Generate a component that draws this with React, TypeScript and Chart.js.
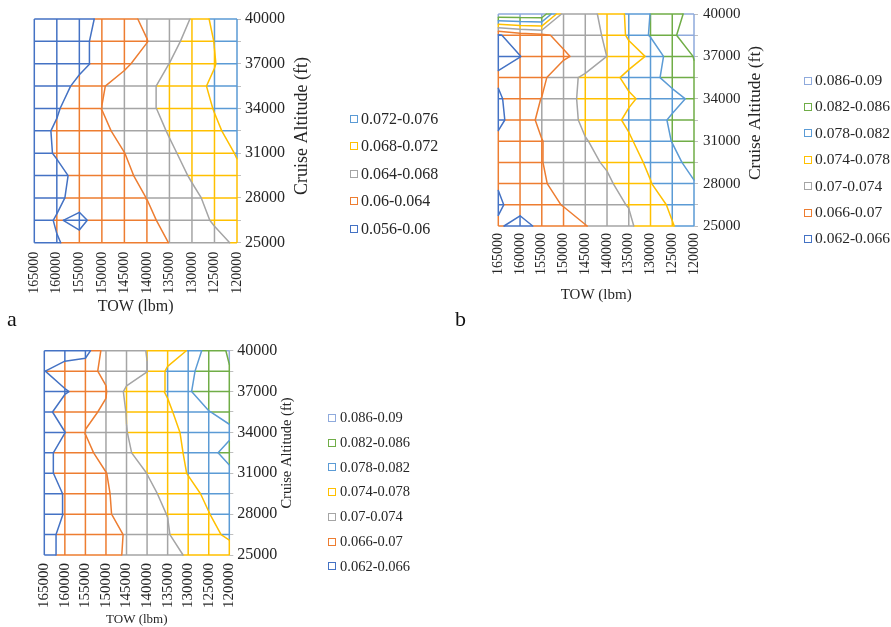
import React, { useEffect, useRef } from 'react';
import { Chart, registerables } from 'chart.js';

Chart.register(...registerables);

// ---------------- data ----------------
const TOW = [165000, 160000, 155000, 150000, 145000, 140000, 135000, 130000, 125000, 120000];
const ALT = [25000, 26500, 28000, 29500, 31000, 32500, 34000, 35500, 37000, 38500, 40000];
const ALT_LABELED = [25000, 28000, 31000, 34000, 37000, 40000];

const A_BANDS = ['0.056-0.06', '0.06-0.064', '0.064-0.068', '0.068-0.072', '0.072-0.076'];
const A_LEVELS = [0.06, 0.064, 0.068, 0.072];
const BC_BANDS = ['0.062-0.066', '0.066-0.07', '0.07-0.074', '0.074-0.078', '0.078-0.082', '0.082-0.086', '0.086-0.09'];
const BC_LEVELS = [0.066, 0.07, 0.074, 0.078, 0.082, 0.086];
const BAND_COLORS = ['#4472C4', '#ED7D31', '#A5A5A5', '#FFC000', '#5B9BD5', '#70AD47', '#8FAADC'];

// value grids: one row per altitude (25000 -> 40000), one column per TOW (165000 -> 120000)
const A_Z = [
  [0.0588, 0.05989, 0.06052, 0.06152, 0.06236, 0.0632, 0.06404, 0.06552, 0.067, 0.06848],
  [0.05916, 0.06016, 0.0596, 0.06074, 0.06208, 0.06336, 0.06488, 0.06664, 0.06836, 0.07],
  [0.05848, 0.0596, 0.06072, 0.0618, 0.06292, 0.06404, 0.06568, 0.06732, 0.06896, 0.0706],
  [0.05796, 0.05932, 0.06068, 0.06204, 0.06336, 0.06492, 0.0666, 0.06832, 0.07, 0.0714],
  [0.059, 0.06024, 0.06148, 0.06276, 0.06396, 0.06572, 0.06748, 0.06904, 0.07052, 0.0722],
  [0.05888, 0.0604, 0.06188, 0.06336, 0.06492, 0.0666, 0.06824, 0.06988, 0.07152, 0.073],
  [0.05752, 0.05968, 0.06188, 0.06404, 0.06568, 0.06732, 0.06892, 0.07052, 0.07212, 0.0738],
  [0.0564, 0.05836, 0.06104, 0.06372, 0.06556, 0.06728, 0.06904, 0.07084, 0.07264, 0.0744],
  [0.0564, 0.0568, 0.05898, 0.06116, 0.06332, 0.06564, 0.06804, 0.06992, 0.07184, 0.0744],
  [0.0563, 0.0578, 0.05932, 0.06084, 0.06236, 0.06388, 0.06668, 0.0694, 0.07208, 0.0744],
  [0.0564, 0.0566, 0.0586, 0.06072, 0.06288, 0.06476, 0.0664, 0.06816, 0.0732, 0.0752],
];

const B_Z = [
  [0.067, 0.0632, 0.068, 0.0692, 0.06988, 0.0712, 0.0734, 0.076, 0.0778, 0.08],
  [0.065, 0.069, 0.0694, 0.07008, 0.0716, 0.0732, 0.07412, 0.0764, 0.0786, 0.0804],
  [0.06648, 0.0684, 0.0696, 0.0712, 0.0726, 0.0736, 0.075, 0.07788, 0.08, 0.0818],
  [0.0668, 0.0682, 0.06992, 0.0714, 0.0734, 0.07428, 0.0768, 0.0786, 0.0812, 0.083],
  [0.0668, 0.0684, 0.06988, 0.072, 0.0738, 0.0752, 0.0774, 0.0804, 0.08208, 0.084],
  [0.0652, 0.06788, 0.07092, 0.0724, 0.07476, 0.0764, 0.0788, 0.0804, 0.08252, 0.0844],
  [0.0654, 0.0684, 0.07008, 0.072, 0.07532, 0.076, 0.0774, 0.0792, 0.0808, 0.0828],
  [0.0666, 0.068, 0.0692, 0.07268, 0.07464, 0.0764, 0.07908, 0.081, 0.08328, 0.0856],
  [0.0648, 0.06592, 0.068, 0.0694, 0.0714, 0.07404, 0.0762, 0.0786, 0.08428, 0.08608],
  [0.0656, 0.068, 0.0692, 0.0712, 0.0722, 0.0746, 0.0786, 0.08236, 0.0852, 0.0892],
  [0.0896, 0.0896, 0.0896, 0.0724, 0.073, 0.0748, 0.0788, 0.08208, 0.0844, 0.0876],
];

const C_Z = [
  [0.0644, 0.0672, 0.068, 0.0696, 0.07012, 0.0714, 0.0728, 0.0744, 0.076, 0.07692],
  [0.0644, 0.0672, 0.0684, 0.0694, 0.07012, 0.0724, 0.0738, 0.0756, 0.0774, 0.0784],
  [0.0644, 0.06616, 0.068, 0.0694, 0.0716, 0.0734, 0.07404, 0.076, 0.07788, 0.08],
  [0.0644, 0.0662, 0.068, 0.0696, 0.0716, 0.0732, 0.0748, 0.0768, 0.0788, 0.0804],
  [0.0644, 0.068, 0.0688, 0.06992, 0.072, 0.07404, 0.076, 0.07816, 0.08, 0.0812],
  [0.0644, 0.06804, 0.0692, 0.0712, 0.0736, 0.0752, 0.0768, 0.0784, 0.081, 0.0832],
  [0.0644, 0.06592, 0.07008, 0.072, 0.07392, 0.076, 0.0768, 0.0788, 0.0812, 0.0812],
  [0.0644, 0.0684, 0.06952, 0.07032, 0.07412, 0.0756, 0.0772, 0.0804, 0.08188, 0.0832],
  [0.0644, 0.0656, 0.0676, 0.06984, 0.07476, 0.076, 0.0784, 0.0816, 0.084, 0.0852],
  [0.06588, 0.06828, 0.0694, 0.0704, 0.072, 0.07392, 0.0786, 0.0812, 0.0836, 0.0858],
  [0.0632, 0.0636, 0.064, 0.072, 0.0728, 0.07408, 0.076, 0.0782, 0.084, 0.0864],
];

// ---------------- geometry helpers (contour + coloured wireframe) ----------------
type Pt = { x: number; y: number };
const GAP: Pt = { x: NaN, y: NaN };

function bandOf(v: number, levels: number[]) {
  let b = 0;
  for (const l of levels) if (v >= l) b++;
  return b;
}

function wireframe(z: number[][], levels: number[], nb: number): Pt[][] {
  const out: Pt[][] = Array.from({ length: nb }, () => [] as Pt[]);
  const edge = (x1: number, y1: number, v1: number, x2: number, y2: number, v2: number) => {
    const ts = [0, 1];
    for (const L of levels) if ((v1 >= L) !== (v2 >= L)) ts.push((L - v1) / (v2 - v1));
    ts.sort((a, b) => a - b);
    for (let i = 0; i < ts.length - 1; i++) {
      const ta = ts[i], tb = ts[i + 1];
      if (tb - ta < 1e-9) continue;
      const vm = v1 + (v2 - v1) * ((ta + tb) / 2);
      const b = Math.min(nb - 1, bandOf(vm, levels));
      out[b].push(
        { x: x1 + (x2 - x1) * ta, y: y1 + (y2 - y1) * ta },
        { x: x1 + (x2 - x1) * tb, y: y1 + (y2 - y1) * tb },
        GAP
      );
    }
  };
  for (let r = 0; r < ALT.length; r++)
    for (let p = 0; p < TOW.length - 1; p++) edge(TOW[p], ALT[r], z[r][p], TOW[p + 1], ALT[r], z[r][p + 1]);
  for (let p = 0; p < TOW.length; p++)
    for (let r = 0; r < ALT.length - 1; r++) edge(TOW[p], ALT[r], z[r][p], TOW[p], ALT[r + 1], z[r + 1][p]);
  return out;
}

function contours(z: number[][], levels: number[]): Pt[][] {
  return levels.map((L) => {
    const out: Pt[] = [];
    const cross = (va: number, vb: number, xa: number, ya: number, xb: number, yb: number): Pt => {
      const t = (L - va) / (vb - va);
      return { x: xa + (xb - xa) * t, y: ya + (yb - ya) * t };
    };
    for (let r = 0; r < ALT.length - 1; r++) {
      for (let p = 0; p < TOW.length - 1; p++) {
        const a = z[r][p], b = z[r][p + 1], c = z[r + 1][p + 1], d = z[r + 1][p];
        const x0 = TOW[p], x1 = TOW[p + 1], y0 = ALT[r], y1 = ALT[r + 1];
        const e: (Pt | null)[] = [
          (a >= L) !== (b >= L) ? cross(a, b, x0, y0, x1, y0) : null,
          (b >= L) !== (c >= L) ? cross(b, c, x1, y0, x1, y1) : null,
          (c >= L) !== (d >= L) ? cross(c, d, x1, y1, x0, y1) : null,
          (d >= L) !== (a >= L) ? cross(d, a, x0, y1, x0, y0) : null,
        ];
        const pts = e.filter((q) => q) as Pt[];
        if (pts.length === 2) out.push(pts[0], pts[1], GAP);
        else if (pts.length === 4) {
          const center = (a + b + c + d) / 4 >= L;
          if (center === (a >= L)) out.push(e[0]!, e[1]!, GAP, e[2]!, e[3]!, GAP);
          else out.push(e[3]!, e[0]!, GAP, e[1]!, e[2]!, GAP);
        }
      }
    }
    return out;
  });
}

// ---------------- layout / styling ----------------
const FONT = '"Liberation Serif", "Times New Roman", serif';
const TEXT = '#262626';
const Y_AXIS_W = 60;

type Cfg = {
  id: string; left: number; top: number; w: number; h: number;
  area: { l: number; t: number; r: number; b: number };
  z: number[][]; levels: number[]; bands: string[];
  xTickFont: number; xTickPad: number; xTitleFont: number; xTitleY: number;
  yTickFont: number; yTickPad: number; yTitleFont: number; yTitleX: number; yTitleY: number;
  legendFont: number; legendBoxX: number; legendTextX: number; legendY0: number; legendStep: number;
};

const PANELS: Cfg[] = [
  {
    id: 'a', left: 0, top: 0, w: 450, h: 330,
    area: { l: 34.3, t: 19, r: 237, b: 242.7 },
    z: A_Z, levels: A_LEVELS, bands: A_BANDS,
    xTickFont: 14, xTickPad: 9, xTitleFont: 16, xTitleY: 307,
    yTickFont: 16, yTickPad: 4, yTitleFont: 18, yTitleX: 302, yTitleY: 126,
    legendFont: 16, legendBoxX: 353, legendTextX: 361, legendY0: 118.5, legendStep: 27.45,
  },
  {
    id: 'b', left: 445, top: 0, w: 446, h: 330,
    area: { l: 53.3, t: 11, r: 249, b: 226 },
    z: B_Z, levels: BC_LEVELS, bands: BC_BANDS,
    xTickFont: 14, xTickPad: 7, xTitleFont: 15, xTitleY: 295,
    yTickFont: 15, yTickPad: 5, yTitleFont: 17.5, yTitleX: 310, yTitleY: 113,
    legendFont: 15.5, legendBoxX: 362, legendTextX: 370, legendY0: 80, legendStep: 26.4,
  },
  {
    id: 'c', left: 0, top: 330, w: 450, h: 310,
    area: { l: 44.3, t: 20.7, r: 229.3, b: 225 },
    z: C_Z, levels: BC_LEVELS, bands: BC_BANDS,
    xTickFont: 15, xTickPad: 8, xTitleFont: 13, xTitleY: 290,
    yTickFont: 16, yTickPad: 4, yTitleFont: 14.5, yTitleX: 287, yTitleY: 123,
    legendFont: 14.5, legendBoxX: 331.7, legendTextX: 340, legendY0: 87.5, legendStep: 24.7,
  },
];

function Panel({ cfg }: { cfg: Cfg }) {
  const ref = useRef<HTMLCanvasElement>(null);
  useEffect(() => {
    const canvas = ref.current!;
    const nb = cfg.bands.length;
    const grid = wireframe(cfg.z, cfg.levels, nb);
    const lines = contours(cfg.z, cfg.levels);
    const base = { showLine: true, pointRadius: 0, pointHoverRadius: 0, spanGaps: false, clip: false as any, borderWidth: 1.5 };
    const datasets: any[] = [
      ...lines.map((d, k) => ({ ...base, label: 'c' + k, data: d, borderColor: BAND_COLORS[k], borderCapStyle: 'round', borderJoinStyle: 'round', order: 0 })),
      ...grid.map((d, b) => ({ ...base, label: 'g' + b, data: d, borderColor: BAND_COLORS[b], borderCapStyle: 'butt', order: 1 })),
    ];
    const a = cfg.area;
    const overlay = {
      id: 'overlay',
      afterDraw(chart: any) {
        const ctx = chart.ctx as CanvasRenderingContext2D;
        ctx.save();
        ctx.translate(cfg.yTitleX, cfg.yTitleY);
        ctx.rotate(-Math.PI / 2);
        ctx.font = `${cfg.yTitleFont}px ${FONT}`;
        ctx.fillStyle = TEXT;
        ctx.textAlign = 'center';
        ctx.textBaseline = 'middle';
        ctx.fillText('Cruise Altitude (ft)', 0, 0);
        ctx.restore();
        ctx.save();
        ctx.font = `${cfg.legendFont}px ${FONT}`;
        ctx.textAlign = 'left';
        ctx.textBaseline = 'middle';
        for (let i = 0; i < nb; i++) {
          const b = nb - 1 - i;
          const y = cfg.legendY0 + i * cfg.legendStep;
          ctx.strokeStyle = BAND_COLORS[b];
          ctx.lineWidth = 1;
          ctx.strokeRect(Math.round(cfg.legendBoxX - 3.5) + 0.5, Math.round(y - 3.5) + 0.5, 7, 7);
          ctx.fillStyle = TEXT;
          ctx.fillText(cfg.bands[b], cfg.legendTextX, y + 1);
        }
        ctx.restore();
      },
    };
    const chart = new Chart(canvas, {
      type: 'scatter',
      data: { datasets },
      plugins: [overlay],
      options: {
        responsive: false,
        animation: false,
        devicePixelRatio: 1,
        events: [],
        layout: { padding: { left: a.l, top: a.t, right: cfg.w - a.r - Y_AXIS_W, bottom: 0 } },
        plugins: { legend: { display: false }, tooltip: { enabled: false }, title: { display: false } },
        scales: {
          x: {
            type: 'linear', reverse: true, min: 120000, max: 165000,
            afterFit: (s: any) => { s.height = cfg.h - a.b; },
            grid: { display: false, drawTicks: false },
            border: { display: false },
            ticks: {
              stepSize: 5000, autoSkip: false, minRotation: 90, maxRotation: 90, padding: cfg.xTickPad,
              color: TEXT, font: { family: FONT, size: cfg.xTickFont },
              callback: (v: any) => String(v),
            },
            title: {
              display: true, text: 'TOW (lbm)', color: TEXT,
              font: { family: FONT, size: cfg.xTitleFont },
              padding: { top: 0, bottom: cfg.h - cfg.xTitleY - cfg.xTitleFont * 0.6 },
            },
          },
          y: {
            type: 'linear', position: 'right', min: 25000, max: 40000,
            afterFit: (s: any) => { s.width = Y_AXIS_W; },
            grid: { drawOnChartArea: false, drawTicks: true, tickLength: 4, color: '#BFBFBF' },
            border: { display: false },
            ticks: {
              stepSize: 1500, autoSkip: false, padding: cfg.yTickPad,
              color: TEXT, font: { family: FONT, size: cfg.yTickFont },
              callback: (v: any) => (ALT_LABELED.includes(v) ? String(v) : ''),
            },
          },
        },
      } as any,
    });
    return () => chart.destroy();
  }, [cfg]);
  return (
    <canvas
      ref={ref}
      width={cfg.w}
      height={cfg.h}
      style={{ position: 'absolute', left: cfg.left, top: cfg.top, width: cfg.w, height: cfg.h }}
    />
  );
}

export default function App() {
  const tag: React.CSSProperties = { position: 'absolute', fontFamily: FONT, fontSize: 22, color: '#111', lineHeight: '22px' };
  return (
    <div style={{ position: 'absolute', left: 0, top: 0, width: 891, height: 627, overflow: 'hidden', background: '#fff' }}>
      {PANELS.map((p) => (
        <Panel key={p.id} cfg={p} />
      ))}
      <div style={{ ...tag, left: 7, top: 308 }}>a</div>
      <div style={{ ...tag, left: 455, top: 308 }}>b</div>
    </div>
  );
}
